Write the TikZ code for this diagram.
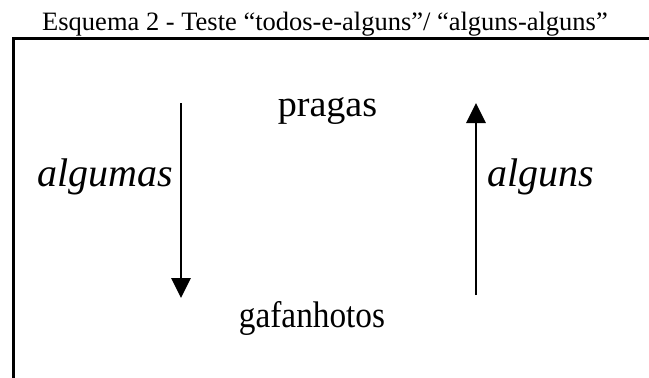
\documentclass[tikz,border=0pt]{standalone}
\usepackage{fontspec}
\setmainfont{Liberation Serif}
\usetikzlibrary{arrows.meta}
\tikzset{
  word/.style={inner sep=0pt, anchor=base, font=\fontsize{37}{42}\selectfont},
  quant/.style={inner sep=0pt, anchor=base, font=\fontsize{40}{45}\selectfont\itshape},
  caption/.style={inner sep=0pt, anchor=base, font=\fontsize{26.5}{30}\selectfont},
  frame/.style={line width=3pt},
  link/.style={line width=2.8pt, -{Triangle[width=19pt,length=20pt]}},
}
\begin{document}
\begin{tikzpicture}[x=1pt,y=-1pt]
  \useasboundingbox (0,0) rectangle (649,378);
  % caption above the frame
  \node[caption] (title) at (325,30)
    {Esquema 2 - Teste “todos-e-alguns”/ “alguns-alguns”};
  % open frame: top and left sides only
  \coordinate (fbl) at (13.5,378);
  \coordinate (ftl) at (13.5,38.7);
  \coordinate (ftr) at (649,38.7);
  \draw[frame] (fbl) -- (ftl) -- (ftr);
  % terms
  \node[word, xscale=1.03] (pragas) at (327.5,116) {pragas};
  \node[word, xscale=0.9] (gafanhotos) at (312,327) {gafanhotos};
  % quantifier labels
  \node[quant] (algumas) at (105.5,186) {algumas};
  \node[quant] (alguns) at (541,186) {alguns};
  % arrows
  \coordinate (downtop) at (181,103);
  \coordinate (downbot) at (181,298);
  \coordinate (upbot) at (476,295);
  \coordinate (uptop) at (476,103);
  \draw[link] (downtop) -- (downbot);
  \draw[link] (upbot) -- (uptop);
\end{tikzpicture}
\end{document}
